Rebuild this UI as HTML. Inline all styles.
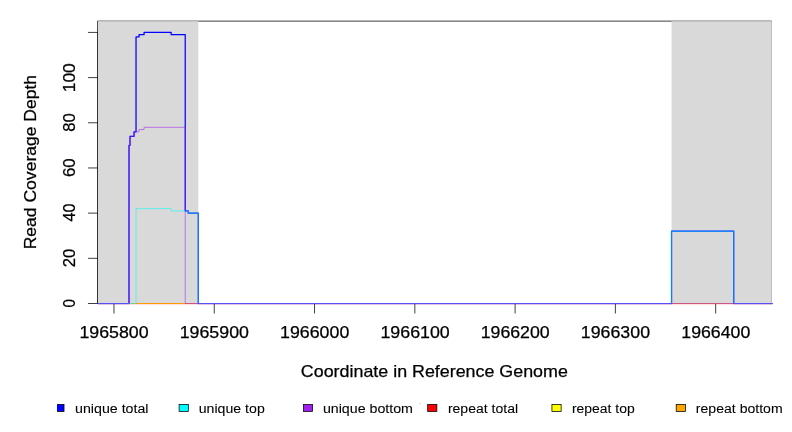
<!DOCTYPE html>
<html><head><meta charset="utf-8"><title>Read Coverage Depth</title>
<style>
html,body{margin:0;padding:0;background:#fff;}
body{width:792px;height:432px;overflow:hidden;font-family:"Liberation Sans", sans-serif;}
svg{display:block;will-change:transform;}
text{font-family:"Liberation Sans", sans-serif;fill:#000;stroke:#000;stroke-width:0.25px;}
text.lg{stroke-width:0.08px;}
</style></head><body>
<svg width="792" height="432" viewBox="0 0 792 432">
<rect x="0" y="0" width="792" height="432" fill="#fff"/>
<defs>
<clipPath id="plt"><rect x="97.92" y="21.125" width="674.580" height="283.375"/></clipPath>
<clipPath id="lg"><rect x="57" y="390" width="735" height="42"/></clipPath>
</defs>
<g stroke="#000" stroke-width="0.75" fill="none" stroke-linecap="round">
<path d="M113.97 303.5H715.68M113.97 303.5v9.6M214.25 303.5v9.6M314.54 303.5v9.6M414.83 303.5v9.6M515.11 303.5v9.6M615.39 303.5v9.6M715.68 303.5v9.6"/>
<path d="M97.92 303.50V32.42M97.92 303.50h-9.6M97.92 258.32h-9.6M97.92 213.14h-9.6M97.92 167.96h-9.6M97.92 122.78h-9.6M97.92 77.60h-9.6M97.92 32.42h-9.6"/>
<rect x="97.92" y="21.125" width="673.58" height="282.375" stroke-linejoin="round"/>
</g>
<g clip-path="url(#plt)" fill="#d9d9d9"><rect x="92.92" y="16.125" width="105.34" height="287.375"/><rect x="671.55" y="16.125" width="100.28" height="287.375"/></g>
<g clip-path="url(#plt)" fill="none" stroke-linejoin="round" stroke-linecap="round">
<path d="M93.91 303.50H775.85V303.50" stroke="#ff0000" stroke-width="1.25"/>
<path d="M93.91 303.50H775.85V303.50" stroke="#ffff00" stroke-width="0.55"/>
<path d="M93.91 303.50H775.85V303.50" stroke="#ffa500" stroke-width="0.55"/>
<path d="M93.91 303.50H129.01V145.37H130.02V136.33H134.03V131.82H136.03V36.94H139.04V34.68H144.06V32.42H171.13V34.68H185.23V210.88H188.24V213.14H198.29V303.50H671.55V231.21H733.73V303.50H775.85V303.50" stroke="#0000ff" stroke-width="1.25"/>
<path d="M93.91 303.50H136.03V208.62H171.13V210.88H188.24V213.14H198.29V303.50H671.55V231.21H733.73V303.50H775.85V303.50" stroke="#00ffff" stroke-width="0.55"/>
<path d="M93.91 303.50H129.01V145.37H130.02V136.33H134.03V131.82H139.04V129.56H144.06V127.30H185.23V303.50H775.85V303.50" stroke="#a020f0" stroke-width="0.55"/>
</g>
<g>
<text x="79.43" y="338.00" font-size="16.5" textLength="69.21" lengthAdjust="spacingAndGlyphs">1965800</text>
<text x="179.69" y="338.00" font-size="16.5" textLength="69.26" lengthAdjust="spacingAndGlyphs">1965900</text>
<text x="280.09" y="338.00" font-size="16.5" textLength="69.21" lengthAdjust="spacingAndGlyphs">1966000</text>
<text x="380.43" y="338.00" font-size="16.5" textLength="69.33" lengthAdjust="spacingAndGlyphs">1966100</text>
<text x="480.69" y="338.00" font-size="16.5" textLength="69.01" lengthAdjust="spacingAndGlyphs">1966200</text>
<text x="580.83" y="338.00" font-size="16.5" textLength="69.20" lengthAdjust="spacingAndGlyphs">1966300</text>
<text x="681.29" y="338.00" font-size="16.5" textLength="69.03" lengthAdjust="spacingAndGlyphs">1966400</text>
<text transform="translate(75.00 307.42) rotate(-90)" x="0" y="0" font-size="16.5" textLength="8.48" lengthAdjust="spacingAndGlyphs">0</text>
<text transform="translate(75.00 267.31) rotate(-90)" x="0" y="0" font-size="16.5" textLength="18.48" lengthAdjust="spacingAndGlyphs">20</text>
<text transform="translate(75.00 221.61) rotate(-90)" x="0" y="0" font-size="16.5" textLength="18.00" lengthAdjust="spacingAndGlyphs">40</text>
<text transform="translate(75.00 177.09) rotate(-90)" x="0" y="0" font-size="16.5" textLength="18.80" lengthAdjust="spacingAndGlyphs">60</text>
<text transform="translate(75.00 131.81) rotate(-90)" x="0" y="0" font-size="16.5" textLength="18.53" lengthAdjust="spacingAndGlyphs">80</text>
<text transform="translate(75.00 92.31) rotate(-90)" x="0" y="0" font-size="16.5" textLength="29.14" lengthAdjust="spacingAndGlyphs">100</text>
<text x="300.89" y="376.50" font-size="16.6" textLength="266.96" lengthAdjust="spacingAndGlyphs">Coordinate in Reference Genome</text>
<text transform="translate(35.80 249.29) rotate(-90)" x="0" y="0" font-size="16.6" textLength="174.37" lengthAdjust="spacingAndGlyphs">Read Coverage Depth</text>
</g>
<g clip-path="url(#lg)">
<rect x="54.83" y="404.4" width="9.2" height="7.0" fill="#0000ff" stroke="#000" stroke-width="0.75"/>
<text class="lg" x="75.05" y="412.60" font-size="12.5" textLength="73.42" lengthAdjust="spacingAndGlyphs">unique total</text>
<rect x="179.11" y="404.4" width="9.2" height="7.0" fill="#00ffff" stroke="#000" stroke-width="0.75"/>
<text class="lg" x="198.76" y="412.60" font-size="12.5" textLength="65.99" lengthAdjust="spacingAndGlyphs">unique top</text>
<rect x="303.38" y="404.4" width="9.2" height="7.0" fill="#a020f0" stroke="#000" stroke-width="0.75"/>
<text class="lg" x="322.92" y="412.60" font-size="12.5" textLength="90.06" lengthAdjust="spacingAndGlyphs">unique bottom</text>
<rect x="427.66" y="404.4" width="9.2" height="7.0" fill="#ff0000" stroke="#000" stroke-width="0.75"/>
<text class="lg" x="447.90" y="412.60" font-size="12.5" textLength="70.22" lengthAdjust="spacingAndGlyphs">repeat total</text>
<rect x="551.93" y="404.4" width="9.2" height="7.0" fill="#ffff00" stroke="#000" stroke-width="0.75"/>
<text class="lg" x="571.91" y="412.60" font-size="12.5" textLength="62.81" lengthAdjust="spacingAndGlyphs">repeat top</text>
<rect x="676.21" y="404.4" width="9.2" height="7.0" fill="#ffa500" stroke="#000" stroke-width="0.75"/>
<text class="lg" x="695.88" y="412.60" font-size="12.5" textLength="86.74" lengthAdjust="spacingAndGlyphs">repeat bottom</text>
</g>
<rect x="419" y="403" width="2" height="1" fill="#dedede"/>
</svg></body></html>
